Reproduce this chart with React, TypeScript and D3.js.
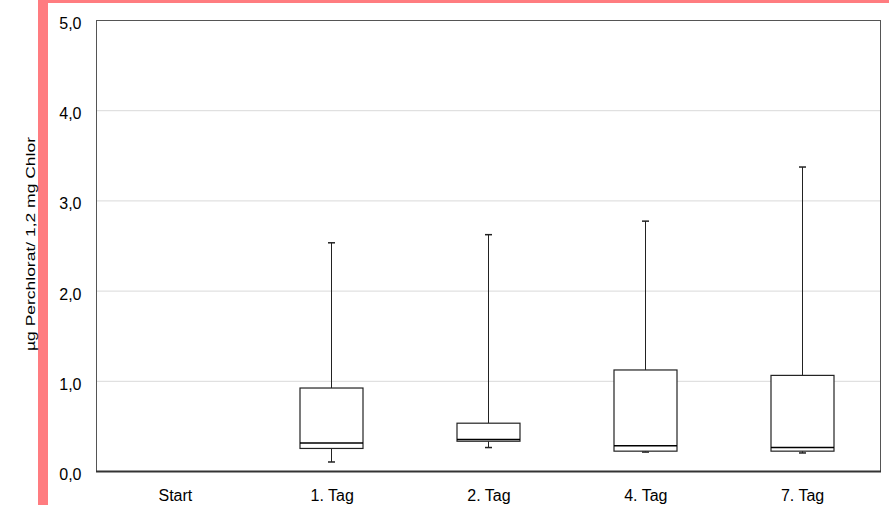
import { useEffect, useRef } from 'react';
import * as d3 from 'd3';

// Box-plot values (µg Perchlorat per 1,2 mg Chlor)
const categories = ['Start', '1. Tag', '2. Tag', '4. Tag', '7. Tag'];
const whiskerLow = [null, 0.1, 0.26, 0.21, 0.2];
const q1 = [null, 0.25, 0.33, 0.22, 0.22];
const median = [null, 0.31, 0.35, 0.28, 0.26];
const q3 = [null, 0.92, 0.53, 1.12, 1.06];
const whiskerHigh = [null, 2.53, 2.62, 2.77, 3.37];
const yTicks = [0, 1, 2, 3, 4, 5];

const App = () => {
  const svgRef = useRef<SVGSVGElement>(null);

  useEffect(() => {
    const svg = d3.select(svgRef.current);
    svg.selectAll('*').remove();

    const W = 889;
    const H = 505;
    const margin = { top: 20, right: 9, bottom: 34, left: 96 };
    const width = W - margin.left - margin.right;
    const height = H - margin.top - margin.bottom;
    const font = 'Liberation Sans, Arial, sans-serif';

    svg.attr('width', W).attr('height', H);

    // pink frame
    svg.append('rect').attr('x', 0).attr('y', 0).attr('width', W).attr('height', H).attr('fill', '#fff');
    svg.append('rect').attr('x', 38).attr('y', 0).attr('width', W - 38).attr('height', 3).attr('fill', '#ff7c80');
    svg.append('rect').attr('x', 38).attr('y', 0).attr('width', 10).attr('height', H).attr('fill', '#ff7c80');

    const g = svg.append('g').attr('transform', `translate(${margin.left},${margin.top})`);

    const x = d3.scaleBand().domain(categories).range([0, width]);
    const y = d3.scaleLinear().domain([0, 5]).range([height, 0]);

    // gridlines
    g.selectAll('line.grid')
      .data(yTicks.filter(t => t > 0 && t < 5))
      .enter()
      .append('line')
      .attr('x1', 0)
      .attr('x2', width)
      .attr('y1', d => y(d) + 0.5)
      .attr('y2', d => y(d) + 0.5)
      .attr('stroke', '#d9d9d9')
      .attr('stroke-width', 1);

    // plot frame
    g.append('rect')
      .attr('x', 0.5)
      .attr('y', 0.5)
      .attr('width', width)
      .attr('height', height)
      .attr('fill', 'none')
      .attr('stroke', '#555')
      .attr('stroke-width', 1);
    g.append('line')
      .attr('x1', 0)
      .attr('x2', width + 1)
      .attr('y1', height + 0.5)
      .attr('y2', height + 0.5)
      .attr('stroke', '#333')
      .attr('stroke-width', 2);

    // y tick labels
    g.selectAll('text.ytick')
      .data(yTicks)
      .enter()
      .append('text')
      .attr('x', -14.5)
      .attr('y', d => y(d) + 9)
      .attr('text-anchor', 'end')
      .style('font-size', '16px')
      .style('font-family', font)
      .attr('fill', '#000')
      .text(d => d3.format('.1f')(d).replace('.', ','));

    // category labels
    g.selectAll('text.xtick')
      .data(categories)
      .enter()
      .append('text')
      .attr('x', d => (x(d) as number) + x.bandwidth() / 2 + 1)
      .attr('y', height + 30)
      .attr('text-anchor', 'middle')
      .style('font-size', '16px')
      .style('font-family', font)
      .attr('fill', '#000')
      .text(d => d);

    // y axis title
    svg.append('text')
      .attr('transform', `translate(34.5,244) rotate(-90)`)
      .attr('x', -107)
      .attr('textLength', 214)
      .attr('lengthAdjust', 'spacingAndGlyphs')
      .style('font-size', '13.5px')
      .style('font-family', font)
      .attr('fill', '#000')
      .text('µg Perchlorat/ 1,2 mg Chlor');

    // boxes
    const boxW = x.bandwidth() * 0.4;
    const capW = 7;
    categories.forEach((c, i) => {
      if (q1[i] === null) return;
      const cx = Math.round((x(c) as number) + x.bandwidth() / 2) + 0.5;
      const lo = whiskerLow[i] as number;
      const hi = whiskerHigh[i] as number;
      const a = q1[i] as number;
      const b = q3[i] as number;
      const m = median[i] as number;

      g.append('line')
        .attr('x1', cx).attr('x2', cx)
        .attr('y1', y(hi)).attr('y2', y(b))
        .attr('stroke', '#222').attr('stroke-width', 1);
      g.append('line')
        .attr('x1', cx).attr('x2', cx)
        .attr('y1', y(a)).attr('y2', y(lo))
        .attr('stroke', '#222').attr('stroke-width', 1);
      [hi, lo].forEach(v => {
        g.append('line')
          .attr('x1', cx - capW / 2).attr('x2', cx + capW / 2)
          .attr('y1', y(v)).attr('y2', y(v))
          .attr('stroke', '#222').attr('stroke-width', 1.5);
      });
      g.append('rect')
        .attr('x', Math.round(cx - boxW / 2))
        .attr('y', y(b))
        .attr('width', Math.round(boxW))
        .attr('height', y(a) - y(b))
        .attr('fill', '#fff')
        .attr('stroke', '#222')
        .attr('stroke-width', 1.2);
      g.append('line')
        .attr('x1', Math.round(cx - boxW / 2)).attr('x2', Math.round(cx - boxW / 2) + Math.round(boxW))
        .attr('y1', y(m)).attr('y2', y(m))
        .attr('stroke', '#000').attr('stroke-width', 1.5);
    });
  }, []);

  return <svg ref={svgRef} style={{ position: 'absolute', left: 0, top: 0 }}></svg>;
};

export default App;
